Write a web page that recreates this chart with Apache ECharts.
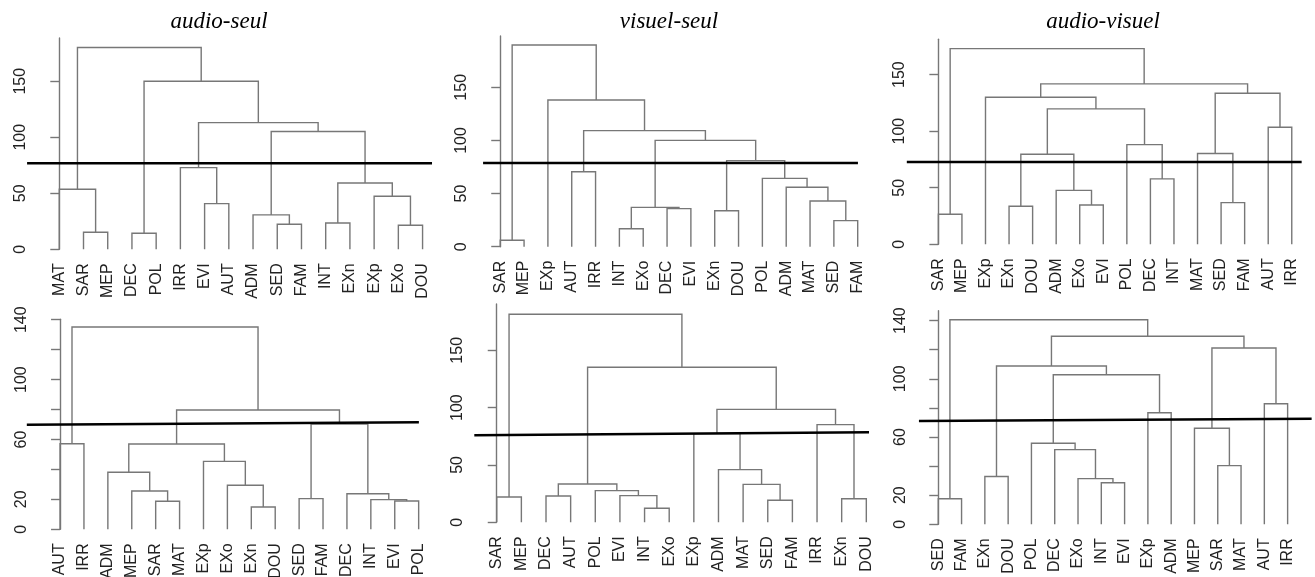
<!DOCTYPE html>
<html>
<head>
<meta charset="utf-8">
<script src="https://cdn.jsdelivr.net/npm/echarts@6/dist/echarts.min.js"></script>
<style>
  html, body { margin: 0; padding: 0; background: #fff; }
  #chart { width: 1315px; height: 577px; }
</style>
</head>
<body>
<div id="chart"></div>
<script>
// ---- Dendrogram data -------------------------------------------------------
// Each tree: leaf order (left to right) and a merge list.
// A merge is [left, right, height]; a string is a leaf, a number refers to an
// earlier merge of the same list (hclust style).

const titles = ['audio-seul', 'visuel-seul', 'audio-visuel', '', '', ''];

const leavesA = ['MAT','SAR','MEP','DEC','POL','IRR','EVI','AUT','ADM','SED','FAM','INT','EXn','EXp','EXo','DOU'];
const mergesA = [
  ['SAR','MEP',15.2], ['MAT',0,53.6], ['DEC','POL',14.3], ['EVI','AUT',40.8],
  ['IRR',3,72.9], ['SED','FAM',22.3], ['ADM',5,30.7], ['INT','EXn',23.5],
  ['EXo','DOU',21.4], ['EXp',8,47.3], [7,9,59.2], [6,10,105.1],
  [4,11,113.1], [2,12,150.0], [1,13,180.1]
];

const leavesB = ['SAR','MEP','EXp','AUT','IRR','INT','EXo','DEC','EVI','EXn','DOU','POL','ADM','MAT','SED','FAM'];
const mergesB = [
  ['SAR','MEP',6.0], ['AUT','IRR',70.6], ['INT','EXo',16.9], ['DEC','EVI',35.8],
  [2,3,37.0], ['EXn','DOU',33.9], ['SED','FAM',24.5], ['MAT',6,43.0],
  ['ADM',7,55.9], ['POL',8,64.3], [5,9,81.0], [4,10,100.1],
  [1,11,109.2], ['EXp',12,138.1], [0,13,189.8]
];

const leavesC = ['SAR','MEP','EXp','EXn','DOU','ADM','EXo','EVI','POL','DEC','INT','MAT','SED','FAM','AUT','IRR'];
const mergesC = [
  ['SAR','MEP',26.5], ['EXn','DOU',33.6], ['EXo','EVI',34.8], ['ADM',2,47.7],
  [1,3,79.6], ['DEC','INT',57.8], ['POL',5,88.1], [4,6,119.7],
  ['EXp',7,130.0], ['SED','FAM',36.8], ['MAT',9,80.2], ['AUT','IRR',103.4],
  [10,11,133.5], [8,12,141.8], [0,13,173.0]
];

const leavesD = ['AUT','IRR','ADM','MEP','SAR','MAT','EXp','EXo','EXn','DOU','SED','FAM','DEC','INT','EVI','POL'];
const mergesD = [
  ['AUT','IRR',57.2], ['SAR','MAT',18.7], ['MEP',1,25.6], ['ADM',2,38.1],
  ['EXn','DOU',14.9], ['EXo',4,29.4], ['EXp',5,45.4], [3,6,57.0],
  ['SED','FAM',20.5], ['EVI','POL',18.9], ['INT',9,19.8], ['DEC',10,23.8],
  [8,11,70.4], [7,12,79.7], [0,13,135.2]
];

const leavesE = ['SAR','MEP','DEC','AUT','POL','EVI','INT','EXo','EXp','ADM','MAT','SED','FAM','IRR','EXn','DOU'];
const mergesE = [
  ['SAR','MEP',22.1], ['DEC','AUT',23.0], ['INT','EXo',12.2], ['EVI',2,23.3],
  ['POL',3,27.6], [1,4,33.4], ['SED','FAM',19.2], ['MAT',6,33.1],
  ['ADM',7,45.9], ['EXp',8,77.3], ['EXn','DOU',20.6], ['IRR',10,85.2],
  [9,11,98.5], [5,12,135.2], [0,13,181.4]
];

const leavesF = ['SED','FAM','EXn','DOU','POL','DEC','EXo','INT','EVI','EXp','ADM','MEP','SAR','MAT','AUT','IRR'];
const mergesF = [
  ['SED','FAM',17.6], ['EXn','DOU',32.8], ['INT','EVI',28.6], ['EXo',2,31.4],
  ['DEC',3,51.3], ['POL',4,55.7], ['EXp','ADM',76.7], [5,6,102.8],
  [1,7,108.8], ['SAR','MAT',40.3], ['MEP',9,66.0], ['AUT','IRR',82.9],
  [10,11,121.2], [8,12,129.2], [0,13,140.6]
];

// Cut level of each tree (height at left end, height at right end)
const cutLevels = [[76.8, 76.8], [78.8, 78.8], [72.8, 72.8], [69.9, 71.5], [75.9, 78.5], [71.0, 72.6]];

// Y axis ticks and labelled ticks
const yTicksBy50 = [0, 50, 100, 150];
const yLabelsBy50 = [0, 50, 100, 150];
const yTicksBy20 = [0, 20, 40, 60, 80, 100, 120, 140];
const yLabelsBy20 = [0, 20, 60, 100, 140];

const trees = [
  { leaves: leavesA, merges: mergesA, ticks: yTicksBy50, labels: yLabelsBy50 },
  { leaves: leavesB, merges: mergesB, ticks: yTicksBy50, labels: yLabelsBy50 },
  { leaves: leavesC, merges: mergesC, ticks: yTicksBy50, labels: yLabelsBy50 },
  { leaves: leavesD, merges: mergesD, ticks: yTicksBy20, labels: yLabelsBy20 },
  { leaves: leavesE, merges: mergesE, ticks: yTicksBy50, labels: yLabelsBy50 },
  { leaves: leavesF, merges: mergesF, ticks: yTicksBy20, labels: yLabelsBy20 }
];

// ---- Panel layout (pixels) and axis ranges -----------------------------------
const panels = [
  { left: 45.0,  top: 38.0,  width: 392.1, height: 211.3, xMin: -0.59, xMax: 15.6, yMax: 188.6, cutX: [-1.33, 15.39], titleX: 219 },
  { left: 485.7, top: 36.0,  width: 386.3, height: 210.7, xMin: -0.61, xMax: 15.6, yMax: 198.3, cutX: [-0.72, 15.01], titleX: 669 },
  { left: 923.3, top: 39.3,  width: 382.6, height: 205.0, xMin: -0.64, xMax: 15.6, yMax: 181.2, cutX: [-1.34, 15.42], titleX: 1103 },
  { left: 45.7,  top: 319.3, width: 387.3, height: 210.0, xMin: -0.60, xMax: 15.6, yMax: 140.3, cutX: [-1.39, 15.01] },
  { left: 481.7, top: 304.0, width: 399.4, height: 218.3, xMin: -0.61, xMax: 15.6, yMax: 190.4, cutX: [-0.91, 15.11] },
  { left: 924.3, top: 310.7, width: 377.3, height: 213.6, xMin: -0.60, xMax: 15.6, yMax: 146.8, cutX: [-0.83, 16.03] }
];

const LINE = '#777';
const TEXT = '#222';
const SANS = '"Liberation Sans", Arial, sans-serif';

// Turn a merge list into branch shapes: [xLeft, yLeftChild, xRight, yRightChild, height]
function branches(leaves, merges) {
  const pos = {};
  leaves.forEach((n, i) => { pos[n] = i; });
  const nodes = [];
  const ref = r => (typeof r === 'string' ? { x: pos[r], y: 0 } : nodes[r]);
  const out = [];
  merges.forEach(([a, b, h]) => {
    const A = ref(a), B = ref(b);
    nodes.push({ x: (A.x + B.x) / 2, y: h });
    out.push([A.x, A.y, B.x, B.y, h]);
  });
  return out;
}

const grid = [], xAxis = [], yAxis = [], series = [], title = [];

panels.forEach((p, k) => {
  const t = trees[k];
  grid.push({ left: p.left, top: p.top, width: p.width, height: p.height, containLabel: false, outerBoundsMode: 'none' });
  xAxis.push({ type: 'value', gridIndex: k, min: p.xMin, max: p.xMax, show: false });
  yAxis.push({
    type: 'value', gridIndex: k, min: 0, max: p.yMax,
    axisLine: { show: true, lineStyle: { color: LINE, width: 1.4 } },
    axisTick: { show: true, length: 9, customValues: t.ticks, lineStyle: { color: LINE, width: 1.4 } },
    axisLabel: { customValues: t.labels, rotate: 90, margin: 16, color: TEXT, fontSize: 16, fontFamily: SANS },
    splitLine: { show: false }
  });

  // branches
  series.push({
    type: 'custom', xAxisIndex: k, yAxisIndex: k, silent: true, animation: false, clip: false,
    data: branches(t.leaves, t.merges),
    renderItem: (params, api) => {
      const p1 = api.coord([api.value(0), api.value(1)]);
      const p2 = api.coord([api.value(0), api.value(4)]);
      const p3 = api.coord([api.value(2), api.value(4)]);
      const p4 = api.coord([api.value(2), api.value(3)]);
      return { type: 'polyline', shape: { points: [p1, p2, p3, p4] },
               style: { stroke: LINE, lineWidth: 1.4, fill: null } };
    }
  });

  // leaf labels
  series.push({
    type: 'custom', xAxisIndex: k, yAxisIndex: k, silent: true, animation: false, clip: false,
    data: t.leaves.map((n, i) => [i, 0]),
    renderItem: (params, api) => {
      const pt = api.coord([api.value(0), api.value(1)]);
      return { type: 'text', x: pt[0], y: pt[1] + 14, rotation: Math.PI / 2,
               style: { text: t.leaves[params.dataIndex], font: '16px ' + SANS, fill: TEXT,
                        align: 'right', verticalAlign: 'middle' } };
    }
  });

  // cut line
  series.push({
    type: 'custom', xAxisIndex: k, yAxisIndex: k, silent: true, animation: false, clip: false,
    data: [[p.cutX[0], cutLevels[k][0], p.cutX[1], cutLevels[k][1]]],
    renderItem: (params, api) => {
      const a = api.coord([api.value(0), api.value(1)]);
      const b = api.coord([api.value(2), api.value(3)]);
      return { type: 'line', shape: { x1: a[0], y1: a[1], x2: b[0], y2: b[1] },
               style: { stroke: '#000', lineWidth: 2.5 } };
    }
  });

  if (titles[k]) {
    title.push({
      text: titles[k], left: p.titleX, top: 10, textAlign: 'center', padding: 0,
      textStyle: { fontFamily: '"Liberation Serif", "Times New Roman", serif', fontStyle: 'italic',
                   fontWeight: 'normal', fontSize: 23, color: '#000' }
    });
  }
});

const chart = echarts.init(document.getElementById('chart'), null, { renderer: 'canvas' });
chart.setOption({ backgroundColor: '#fff', animation: false, title, grid, xAxis, yAxis, series });
</script>
</body>
</html>
